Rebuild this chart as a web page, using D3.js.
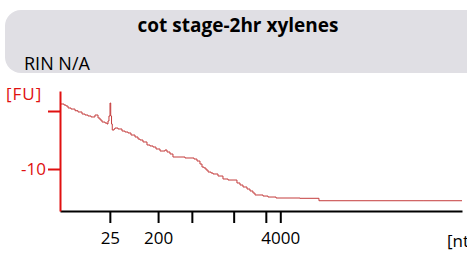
<!DOCTYPE html>
<html>
<head>
<meta charset="utf-8">
<script src="https://cdn.jsdelivr.net/npm/d3@7"></script>
<style>
  body { margin: 0; background: #fff; }
  svg { display: block; font-family: "Open Sans", "DejaVu Sans", sans-serif; }
</style>
</head>
<body>
<div id="chart"></div>
<script>
// electropherogram trace: migration time [s] vs fluorescence [FU]
var times = [20.12, 20.50, 20.75, 21.00, 21.37, 21.87, 22.24, 22.74, 23.11, 23.48, 23.86,
  24.23, 24.35, 24.60, 24.73, 24.98, 25.22, 25.60, 25.85, 25.97, 26.09, 26.22, 26.31, 26.41,
  26.50, 26.72, 26.84, 27.21, 27.71, 28.08, 28.46, 28.83, 29.33, 29.70, 29.95, 30.32, 30.82,
  31.19, 31.57, 31.94, 32.44, 32.81, 33.06, 33.31, 33.68, 34.05, 34.55, 34.93, 35.55, 36.17,
  36.67, 37.04, 37.41, 37.66, 37.91, 38.16, 38.41, 38.78, 39.03, 39.65, 40.27, 40.90, 41.52,
  42.01, 42.39, 42.76, 43.26, 43.63, 44.00, 44.25, 44.75, 45.25, 45.87, 46.37, 46.87, 47.36,
  49.85, 52.09, 52.21, 65.27, 70.0];
var fu = [1.21, 1.03, 0.86, 0.52, 0.34, 0.05, -0.17, -0.52, -0.69, -0.86, -1.03,
  -1.03, -0.69, -0.69, -1.21, -1.55, -1.90, -2.07, -2.24, -1.72, -0.86, 1.38, -0.86, -2.24,
  -3.28, -3.10, -2.93, -3.10, -3.45, -3.62, -3.79, -4.14, -4.48, -4.83, -5.00, -5.34, -5.86,
  -6.03, -6.21, -6.55, -6.90, -6.90, -6.72, -7.07, -7.41, -7.93, -7.93, -7.93, -8.10, -8.10,
  -8.28, -8.62, -9.14, -9.66, -9.83, -10.17, -10.52, -10.69, -10.86, -11.21, -11.72, -11.90, -11.90,
  -12.41, -12.76, -13.10, -13.45, -13.79, -14.14, -14.48, -14.48, -14.66, -14.83, -14.83, -15.00, -15.00,
  -15.05, -15.05, -15.47, -15.47, -15.47];

// ladder positions (s) and their sizes
var ladderTimes = [26.2, 32.2, 36.4, 41.6, 45.6, 47.4];
var ladderLabels = ["25", "200", "", "", "", "4000"];
var yTicks = [0, -10];
var yTickLabels = ["", "-10"];

var title = "cot stage-2hr xylenes";
var subtitle = "RIN N/A";

var W = 467, H = 254;
var svg = d3.select("#chart").append("svg").attr("width", W).attr("height", H);

// header box
svg.append("rect")
  .attr("x", 5).attr("y", 10).attr("width", 480).attr("height", 63)
  .attr("rx", 16).attr("ry", 16)
  .attr("fill", "#e0dfe4");
svg.append("text")
  .attr("x", 238).attr("y", 32)
  .attr("text-anchor", "middle")
  .attr("font-weight", "bold").attr("font-size", 19)
  .attr("fill", "#000")
  .text(title);
svg.append("text")
  .attr("x", 24).attr("y", 70)
  .attr("font-size", 18)
  .attr("fill", "#000")
  .text(subtitle);

var x = d3.scaleLinear().domain([20, 70]).range([60, 462]);
var y = d3.scaleLinear().domain([-17.24, 3.45]).range([211, 91]);

// trace
var pts = times.map(function(t, i) { return [t, fu[i]]; });
svg.append("path")
  .datum(pts)
  .attr("fill", "none")
  .attr("stroke", "#c43c3c")
  .attr("stroke-width", 1)
  .attr("d", d3.line()
    .x(function(d) { return x(d[0]); })
    .y(function(d) { return y(d[1]); })
    .curve(d3.curveStepAfter));

// x axis
var xAxis = d3.axisBottom(x)
  .tickValues(ladderTimes)
  .tickFormat(function(d, i) { return ladderLabels[i]; })
  .tickSize(12).tickPadding(9).tickSizeOuter(0);
var gx = svg.append("g")
  .attr("transform", "translate(0,211)")
  .call(xAxis);
gx.select(".domain").attr("stroke", "#000").attr("stroke-width", 2);
gx.selectAll(".tick line").attr("stroke", "#000").attr("stroke-width", 2);
gx.selectAll(".tick text").attr("font-size", 17).attr("fill", "#000")
  .attr("font-family", "Open Sans, DejaVu Sans, sans-serif");
svg.append("text")
  .attr("x", 447).attr("y", 247)
  .attr("font-size", 17).attr("fill", "#000")
  .text("[nt]");

// y axis
var yAxis = d3.axisLeft(y)
  .tickValues(yTicks)
  .tickFormat(function(d, i) { return yTickLabels[i]; })
  .tickSize(12).tickPadding(2).tickSizeOuter(0);
var gy = svg.append("g")
  .attr("transform", "translate(60,0)")
  .call(yAxis);
gy.select(".domain").attr("stroke", "#e01010").attr("stroke-width", 2);
gy.selectAll(".tick line").attr("stroke", "#e01010").attr("stroke-width", 2);
gy.selectAll(".tick text").attr("font-size", 17).attr("fill", "#e01010")
  .attr("font-family", "Open Sans, DejaVu Sans, sans-serif");
svg.append("text")
  .attr("x", 6).attr("y", 100)
  .attr("font-size", 17).attr("fill", "#e01010")
  .attr("letter-spacing", 1)
  .text("[FU]");
</script>
</body>
</html>
